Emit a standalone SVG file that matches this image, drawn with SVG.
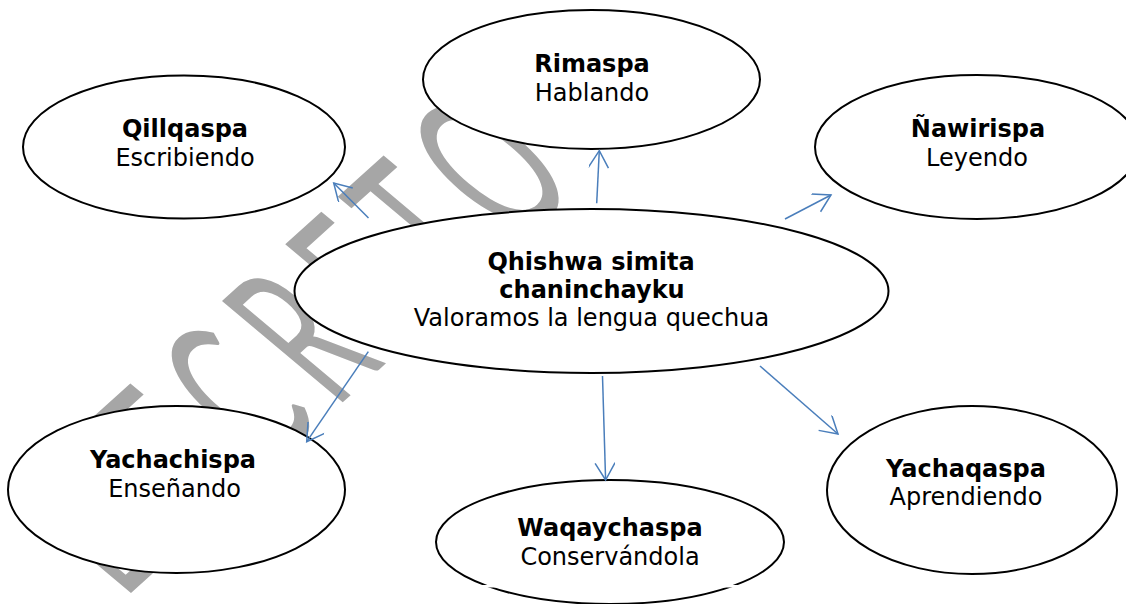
<svg xmlns="http://www.w3.org/2000/svg" width="1126" height="604" viewBox="0 0 1126 604">
<style>
.node ellipse{fill:#fff;stroke:#000;stroke-width:2}
.node text{font-family:"DejaVu Sans",Verdana,sans-serif;font-size:24px;fill:#000;text-anchor:middle}
.node .b{font-weight:bold}
.conn line{stroke:#4a7ebb;stroke-width:1.5;marker-end:url(#arr)}
.wm{font-family:Lato,"DejaVu Sans",sans-serif;font-weight:normal;font-size:110px;fill:#a6a6a6}
</style>
<defs>
<marker id="arr" markerUnits="userSpaceOnUse" markerWidth="22" markerHeight="22" refX="18" refY="10" orient="auto" viewBox="0 0 22 22">
<path d="M1,0 L18,10 L1,20" fill="none" stroke="#4a7ebb" stroke-width="1.5"/>
</marker>
</defs>
<rect width="1126" height="604" fill="#fff"/>
<g id="watermark" transform="matrix(0.743 -0.669 1.532 1.286 131 593)">
<text class="wm" x="-10 103 185 275 360 439 520" y="0">DECRETO</text>
</g>
<g id="n-qillqaspa" class="node"><ellipse cx="184" cy="147" rx="161" ry="71.5"/><text class="b" x="185" y="137">Qillqaspa</text><text x="185" y="165.5">Escribiendo</text></g>
<g id="n-rimaspa" class="node"><ellipse cx="591.5" cy="79.5" rx="168.5" ry="69.5"/><text class="b" x="592" y="72">Rimaspa</text><text x="592" y="100.5">Hablando</text></g>
<g id="n-nawirispa" class="node"><ellipse cx="977" cy="147" rx="162" ry="72"/><text class="b" x="978" y="137">Ñawirispa</text><text x="977" y="166">Leyendo</text></g>
<g id="n-center" class="node"><ellipse cx="591.5" cy="291" rx="297" ry="82"/><text class="b" x="591" y="270">Qhishwa simita</text><text class="b" x="592" y="298">chaninchayku</text><text x="591.5" y="326">Valoramos la lengua quechua</text></g>
<g id="n-yachachispa" class="node"><ellipse cx="176.5" cy="489.5" rx="168.5" ry="83.5"/><text class="b" x="173" y="468">Yachachispa</text><text x="174.5" y="497">Enseñando</text></g>
<g id="n-waqaychaspa" class="node"><ellipse cx="610" cy="542" rx="174" ry="62"/><text class="b" x="610" y="536">Waqaychaspa</text><text x="610" y="565">Conservándola</text></g>
<g id="n-yachaqaspa" class="node"><ellipse cx="972" cy="490" rx="145" ry="84"/><text class="b" x="966" y="476.5">Yachaqaspa</text><text x="966" y="505">Aprendiendo</text></g>
<rect x="480" y="585" width="260" height="2.5" fill="#fff"/>
<g id="connectors" class="conn">
<line x1="368.5" y1="218" x2="333.7" y2="183"/>
<line x1="596.7" y1="203.3" x2="599.3" y2="150.7"/>
<line x1="785" y1="219" x2="831" y2="195"/>
<line x1="368.3" y1="351.7" x2="306.7" y2="441.7"/>
<line x1="602.5" y1="376" x2="605.6" y2="480"/>
<line x1="760" y1="366" x2="838" y2="434"/>
</g>
</svg>
